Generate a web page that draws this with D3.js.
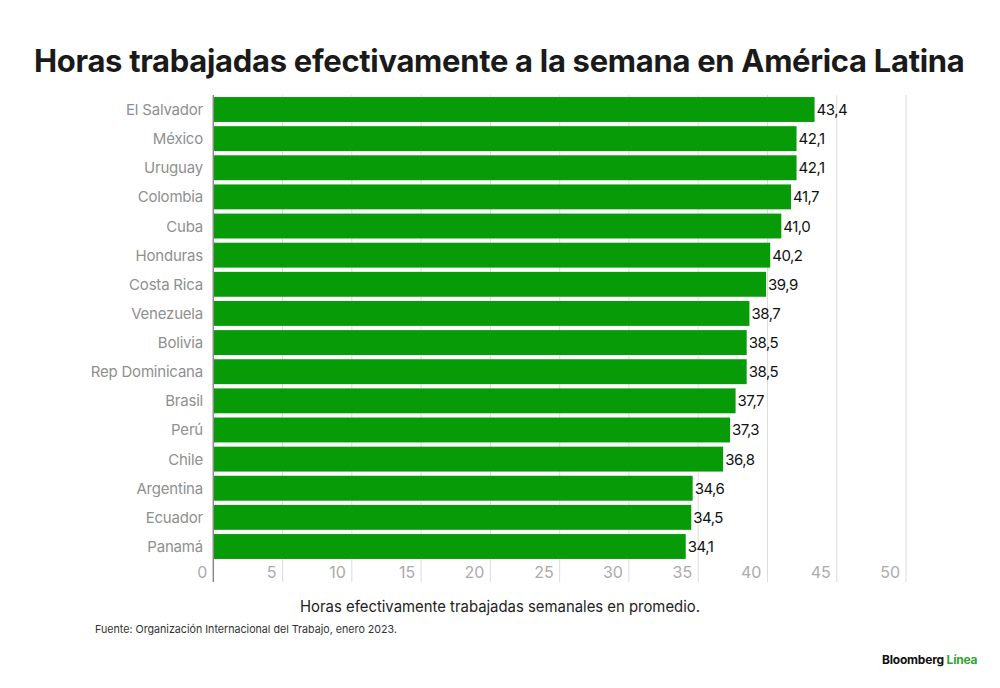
<!DOCTYPE html>
<html>
<head>
<meta charset="utf-8">
<script src="https://cdn.jsdelivr.net/npm/d3@7"></script>
<style>
  html, body { margin: 0; padding: 0; background: #fff; }
  svg { display: block; }
</style>
</head>
<body>
<div id="chart"></div>
<script>
const countries = ["El Salvador", "México", "Uruguay", "Colombia", "Cuba", "Honduras", "Costa Rica",
  "Venezuela", "Bolivia", "Rep Dominicana", "Brasil", "Perú", "Chile", "Argentina", "Ecuador", "Panamá"];
const hours = [43.4, 42.1, 42.1, 41.7, 41.0, 40.2, 39.9, 38.7, 38.5, 38.5, 37.7, 37.3, 36.8, 34.6, 34.5, 34.1];
const tickValues = [0, 5, 10, 15, 20, 25, 30, 35, 40, 45, 50];

const W = 1000, H = 688;
const font = "Inter, 'Noto Sans', sans-serif";
const green = "#079b07";

const svg = d3.select("#chart").append("svg")
  .attr("width", W).attr("height", H)
  .attr("viewBox", `0 0 ${W} ${H}`);

const x = d3.scaleLinear().domain([0, 50]).range([213.3, 906]);
const y = d3.scaleBand().domain(countries).range([95, 561]).paddingInner(0.145).paddingOuter(0.07);

const fmt = v => d3.format(".1f")(v).replace(".", ",");

/* Title — sized so its natural width lands near the reference's span */
const title = svg.append("text").attr("x", 34).attr("y", 72)
  .attr("font-family", font).attr("font-weight", 700).attr("font-size", 31)
  .attr("fill", "#1a1a1a").attr("letter-spacing", "-0.3")
  .text("Horas trabajadas efectivamente a la semana en América Latina");
const tw = title.node().getComputedTextLength();
title.attr("font-size", 31 * 931 / tw);

/* Gridlines */
svg.append("g").selectAll("line")
  .data(tickValues.filter(d => d > 0))
  .join("line")
  .attr("x1", d => x(d)).attr("x2", d => x(d))
  .attr("y1", 95).attr("y2", 582)
  .attr("stroke", "#dcdcdc").attr("stroke-width", 1);

/* Tick labels: right-aligned just left of each gridline */
svg.append("g").selectAll("text")
  .data(tickValues)
  .join("text")
  .attr("x", d => x(d) - 6).attr("y", 578)
  .attr("text-anchor", "end")
  .attr("font-family", font).attr("font-size", 16).attr("fill", "#ababab")
  .text(d => d);

/* Bars */
svg.append("g").selectAll("rect")
  .data(countries)
  .join("rect")
  .attr("x", x(0)).attr("y", d => y(d))
  .attr("width", (d, i) => x(hours[i]) - x(0))
  .attr("height", y.bandwidth())
  .attr("fill", green);

/* Zero axis line */
svg.append("line")
  .attr("x1", x(0)).attr("x2", x(0)).attr("y1", 95).attr("y2", 582)
  .attr("stroke", "#8a8a8a").attr("stroke-width", 1.5);

/* Category labels */
svg.append("g").selectAll("text")
  .data(countries)
  .join("text")
  .attr("x", 203).attr("y", d => y(d) + y.bandwidth() / 2 + 5.5)
  .attr("text-anchor", "end")
  .attr("font-family", font).attr("font-size", 15).attr("fill", "#8f8f8f")
  .attr("letter-spacing", "-0.2")
  .text(d => d);

/* Value labels */
svg.append("g").selectAll("text")
  .data(countries)
  .join("text")
  .attr("x", (d, i) => x(hours[i]) + 2).attr("y", d => y(d) + y.bandwidth() / 2 + 5.5)
  .attr("font-family", font).attr("font-size", 15).attr("fill", "#111")
  .attr("letter-spacing", "-0.5")
  .text((d, i) => fmt(hours[i]));

/* Axis title */
svg.append("text").attr("x", 500).attr("y", 612)
  .attr("text-anchor", "middle")
  .attr("font-family", font).attr("font-size", 15.5).attr("fill", "#222")
  .attr("textLength", 400).attr("lengthAdjust", "spacingAndGlyphs")
  .text("Horas efectivamente trabajadas semanales en promedio.");

/* Source */
svg.append("text").attr("x", 95).attr("y", 633)
  .attr("font-family", font).attr("font-size", 11).attr("fill", "#333")
  .attr("textLength", 302).attr("lengthAdjust", "spacingAndGlyphs")
  .text("Fuente: Organización Internacional del Trabajo, enero 2023.");

/* Logo */
const logo = svg.append("text").attr("x", 882).attr("y", 664)
  .attr("font-family", font).attr("font-size", 12).attr("font-weight", 700)
  .attr("letter-spacing", "-0.2");
logo.append("tspan").attr("fill", "#111").text("Bloomberg ");
logo.append("tspan").attr("fill", "#2fa52f").text("Línea");
</script>
</body>
</html>
